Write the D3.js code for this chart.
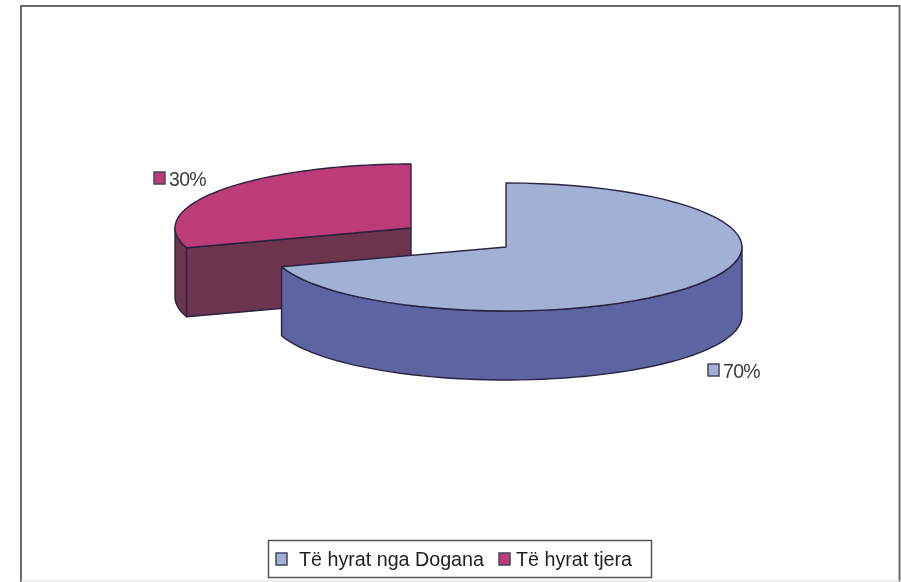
<!DOCTYPE html>
<html><head><meta charset="utf-8">
<script src="https://cdn.jsdelivr.net/npm/d3@7"></script>
<style>html,body{margin:0;padding:0;background:#fff}svg{display:block}text{font-family:"Liberation Sans",Arial,sans-serif;fill:#3c3c3c}</style>
</head><body><svg id="c" width="901" height="582"></svg>
<script>
const categories = ["Të hyrat nga Dogana", "Të hyrat tjera"];
const values = [70, 30];
const labels = ["70%", "30%"];
const topColors = ["#A1B1D5", "#BC3B78"];
const sideColors = ["#5C65A1", "#6D344E"];
const outline = "#2b2342";

const svg = d3.select("#c");
const defs = svg.append("defs");
defs.append("filter").attr("id","soft").append("feGaussianBlur").attr("stdDeviation",0.45);
const root = svg.append("g").attr("filter","url(#soft)");

root.append("rect").attr("x",21).attr("y",6).attr("width",878.5).attr("height",590)
  .attr("fill","#fff").attr("stroke","#6a6a6a").attr("stroke-width",2);
root.append("line").attr("x1",21).attr("x2",901).attr("y1",581).attr("y2",581).attr("stroke","#dddddd");

const rx = 236, ry = 64, depth = 69;
const centers = [[506,247],[411,228]];
const labelPos = [[708,364],[154,172]];

const arcs = d3.pie().value(d=>d).sort(null)(values);
const pt = (c,a,dy=0)=>[c[0]+rx*Math.sin(a), c[1]-ry*Math.cos(a)+dy];
const line = d3.line();
const steps = (a0,a1)=>d3.range(0,61).map(i=>a0+(a1-a0)*i/60);

function drawSlice(i){
  const d = arcs[i], c = centers[i];
  const g = root.append("g").attr("stroke",outline).attr("stroke-width",1.4).attr("stroke-linejoin","round");
  const rim = steps(d.startAngle,d.endAngle);
  // outer wall: only the part of the rim facing the viewer
  const a0 = Math.max(d.startAngle,Math.PI/2), a1 = Math.min(d.endAngle,3*Math.PI/2);
  if(a1>a0){
    const s = steps(a0,a1);
    g.append("path").attr("fill",sideColors[i])
      .attr("d",line([...s.map(a=>pt(c,a)),...s.slice().reverse().map(a=>pt(c,a,depth))])+"Z");
  }
  // cut walls: the start cut faces the viewer when sin<0, the end cut when sin>0
  [[d.startAngle,-1],[d.endAngle,1]].forEach(([a,sign])=>{
    if(Math.sin(a)*sign>1e-6){
      const p=pt(c,a);
      g.append("path").attr("fill",sideColors[i])
       .attr("d",line([c,p,[p[0],p[1]+depth],[c[0],c[1]+depth]])+"Z");
    }
  });
  g.append("path").attr("fill",topColors[i])
    .attr("d",line([c,...rim.map(a=>pt(c,a))])+"Z");
}
drawSlice(1);
drawSlice(0);

function swatch(x,y,w,h,i){
  root.append("rect").attr("x",x).attr("y",y).attr("width",w).attr("height",h)
    .attr("fill",topColors[i]).attr("stroke","#45455c").attr("stroke-width",1.5);
}
labels.forEach((t,i)=>{
  const [x,y]=labelPos[i];
  swatch(x,y,11,12,i);
  root.append("text").attr("x",x+15).attr("y",y+13.5).attr("font-size",19.5).attr("letter-spacing",-0.7).text(t);
});

root.append("rect").attr("x",268.5).attr("y",540.5).attr("width",383).attr("height",37)
  .attr("fill","#fff").attr("stroke","#555").attr("stroke-width",1.5);
const legendX = [276,499], legendTextX = [299,516];
categories.forEach((t,i)=>{
  swatch(legendX[i],553,11,12,i);
  root.append("text").attr("x",legendTextX[i]).attr("y",566).attr("font-size",19.7).style("fill","#222").text(t);
});
</script></body></html>
